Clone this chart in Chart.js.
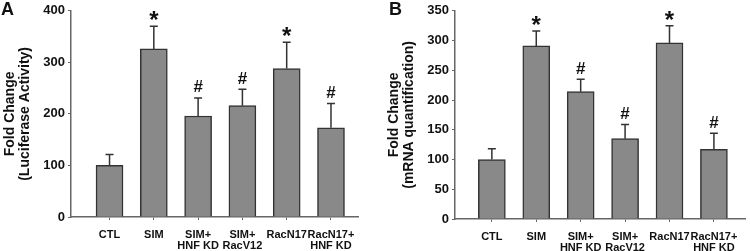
<!DOCTYPE html>
<html>
<head>
<meta charset="utf-8">
<script src="https://cdn.jsdelivr.net/npm/chart.js@4"></script>
<style>
  body { margin: 0; background: #fff; }
  .panel { position: absolute; top: 0; width: 375px; height: 251px; }
  #panelA { left: 0; }
  #panelB { left: 375px; }
</style>
</head>
<body>
<div class="panel" id="panelA"><canvas id="chartA" width="375" height="251"></canvas></div>
<div class="panel" id="panelB"><canvas id="chartB" width="375" height="251"></canvas></div>
<script>
const categories = [["CTL"], ["SIM"], ["SIM+", "HNF KD"], ["SIM+", "RacV12"], ["RacN17"], ["RacN17+", "HNF KD"]];
const marks = ["", "*", "#", "#", "*", "#"];

const luciferaseMean = [100, 326, 196, 216, 288, 173];
const luciferaseErr = [21, 44, 35, 32, 51, 47];
const luciferaseTicks = [0, 100, 200, 300, 400];

const mrnaMean = [100, 291, 214, 135, 296, 117];
const mrnaErr = [18, 25, 21, 24, 29, 27];
const mrnaTicks = [0, 50, 100, 150, 200, 250, 300, 350];

const FONT = "'Liberation Sans', Arial, sans-serif";

// error bars (upper only) plus the * / # signs above them
const errorBarPlugin = {
    id: 'errorBars',
    afterDatasetsDraw(chart, args, opts) {
        const ctx = chart.ctx;
        const xs = chart.scales.x;
        const ys = chart.scales.y;
        ctx.save();
        ctx.strokeStyle = '#333';
        ctx.lineWidth = 1.5;
        ctx.fillStyle = '#111';
        ctx.textAlign = 'center';
        ctx.textBaseline = 'alphabetic';
        opts.mean.forEach((m, i) => {
            const x = xs.getPixelForValue(i);
            const y0 = ys.getPixelForValue(m);
            const y1 = ys.getPixelForValue(m + opts.err[i]);
            ctx.beginPath();
            ctx.moveTo(x, y0);
            ctx.lineTo(x, y1);
            ctx.moveTo(x - 4, y1);
            ctx.lineTo(x + 4, y1);
            ctx.stroke();
            if (marks[i] === '*') {
                ctx.font = 'bold 24px ' + FONT;
                ctx.fillText('*', x, y1 + 2);
            } else if (marks[i] === '#') {
                ctx.font = 'bold 17px ' + FONT;
                ctx.fillText('#', x, y1 - 5.5);
            }
        });
        ctx.restore();
    }
};

function makeChart(id, mean, err, yTicks, title, box, titlePad) {
    const ctx = document.getElementById(id).getContext('2d');
    return new Chart(ctx, {
        type: 'bar',
        data: {
            datasets: [{
                data: mean.map((v, i) => ({ x: i, y: v })),
                backgroundColor: '#898989',
                borderColor: '#333',
                borderWidth: 1.5,
                barThickness: 27
            }]
        },
        options: {
            responsive: false,
            animation: false,
            devicePixelRatio: 1,
            layout: {
                autoPadding: false,
                padding: { left: 0, right: 375 - box.right, top: box.top, bottom: 0 }
            },
            plugins: {
                legend: { display: false },
                tooltip: { enabled: false },
                errorBars: { mean: mean, err: err }
            },
            scales: {
                x: {
                    type: 'linear',
                    offset: false,
                    min: box.xmin,
                    max: box.xmax,
                    afterBuildTicks: s => { s.ticks = categories.map((c, i) => ({ value: i })); },
                    afterFit: s => { s.height = 251 - box.bottom; },
                    border: { color: '#666', width: 1.5 },
                    grid: { drawOnChartArea: false, tickLength: 3, color: '#666', offset: false },
                    ticks: {
                        color: '#111',
                        padding: 9,
                        maxRotation: 0,
                        autoSkip: false,
                        font: { family: FONT, size: 11, weight: 'bold', lineHeight: 1.0 },
                        callback: v => categories[v]
                    }
                },
                y: {
                    min: 0,
                    max: yTicks[yTicks.length - 1],
                    afterBuildTicks: s => { s.ticks = yTicks.map(v => ({ value: v })); },
                    afterFit: s => { s.width = box.left; },
                    border: { color: '#666', width: 1.5 },
                    grid: { drawOnChartArea: false, tickLength: 3, color: '#666' },
                    ticks: {
                        color: '#111',
                        padding: 3,
                        font: { family: FONT, size: 13, weight: 'bold' }
                    },
                    title: {
                        display: true,
                        text: title,
                        color: '#111',
                        padding: { top: titlePad, bottom: 0 },
                        font: { family: FONT, size: 14, weight: 'bold', lineHeight: 1.08 }
                    }
                }
            }
        },
        plugins: [errorBarPlugin]
    });
}

makeChart('chartA', luciferaseMean, luciferaseErr, luciferaseTicks,
    ['Fold Change', '(Luciferase Activity)'],
    { left: 71, right: 358, top: 6, bottom: 217, xmin: -0.87, xmax: 5.61 }, 2.5);

makeChart('chartB', mrnaMean, mrnaErr, mrnaTicks,
    ['Fold Change', '(mRNA quantification)'],
    { left: 80, right: 370, top: 7, bottom: 219, xmin: -0.83, xmax: 5.70 }, 11.5);

// panel letters
function panelLetter(id, letter, x, y) {
    const div = document.getElementById(id);
    const span = document.createElement('div');
    span.textContent = letter;
    span.style.cssText = `position:absolute;left:${x}px;top:${y}px;font:bold 18px ${FONT};color:#111;`;
    div.appendChild(span);
}
panelLetter('panelA', 'A', 1, -1);
panelLetter('panelB', 'B', 14, -1);
</script>
</body>
</html>
